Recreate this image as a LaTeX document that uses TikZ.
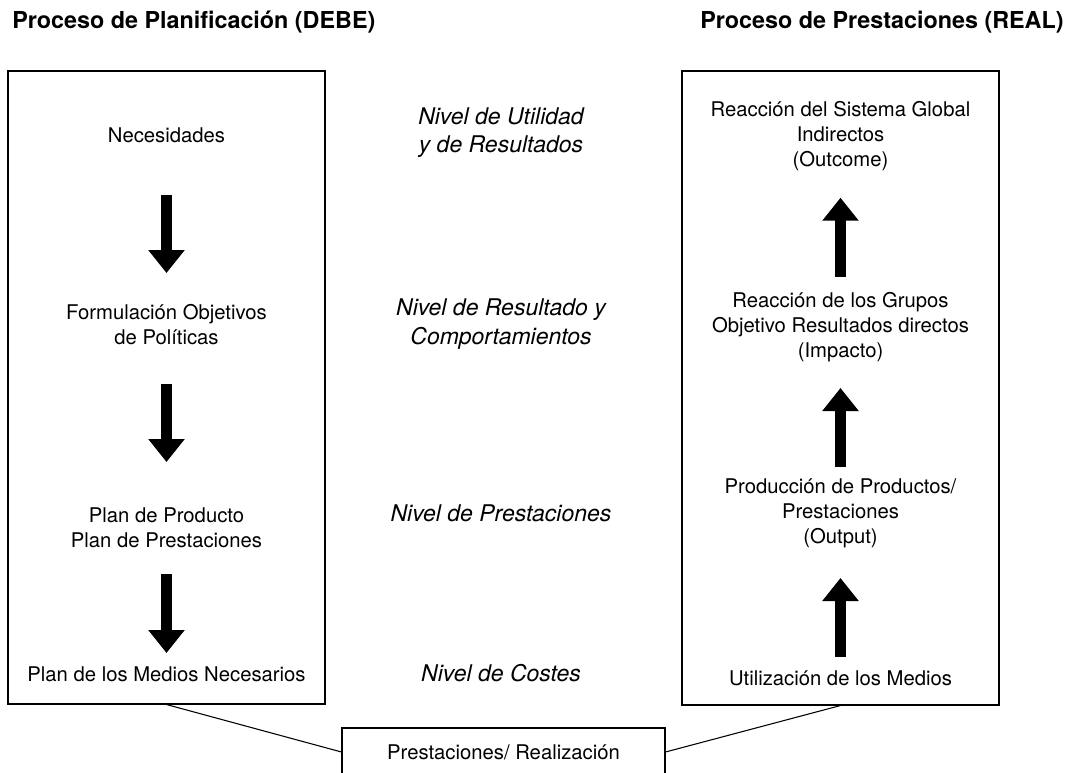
\documentclass[tikz,border=0pt]{standalone}
\usepackage{fontspec}
\setmainfont{TeX Gyre Heros}
\usetikzlibrary{arrows.meta}
\newcommand{\leftX}{166.5}
\newcommand{\midX}{501}
\newcommand{\rightX}{840.5}
\newcommand{\bodyFont}{\fontsize{15.2pt}{18.75pt}\selectfont}
\newcommand{\levelFont}{\fontsize{17.25pt}{21.5pt}\selectfont\itshape}
\newcommand{\titleFont}{\fontsize{17.5pt}{20pt}\selectfont\bfseries}
\tikzset{
  frameBox/.style={draw, line width=0.8pt, inner sep=0pt},
  stageText/.style={align=center, font=\bodyFont, inner sep=0pt},
  levelText/.style={align=center, font=\levelFont, inner sep=0pt},
  titleText/.style={anchor=base west, font=\titleFont, inner sep=0pt},
  blockArrow/.style={-{Triangle[width=26.25pt,length=17.25pt]}, line width=8.25pt}
}

\begin{document}
\begin{tikzpicture}[x=0.75pt, y=-0.75pt]
\useasboundingbox (0,0) rectangle (1074,773);
\node[titleText] (planTitle) at (12,29) {Proceso de Planificación (DEBE)};
\node[titleText] (realTitle) at (700,29) {Proceso de Prestaciones (REAL)};

\node[frameBox, minimum width=237.75pt, minimum height=474.75pt] (planBox) at (\leftX,387.5) {};
\node[frameBox, minimum width=237.75pt, minimum height=475.5pt] (realBox) at (\rightX,388) {};
\node[frameBox, font=\bodyFont, minimum width=242.25pt, minimum height=36pt] (doneBox) at (503.5,752) {Prestaciones/ Realización};
\draw[line width=0.8pt] (planBox.south) -- (doneBox.west);
\draw[line width=0.8pt] (realBox.south) -- (doneBox.east);

% DEBE
\node[stageText] (needs) at (\leftX,135) {Necesidades};
\node[stageText] (goals) at (\leftX,324.5) {Formulación Objetivos\\de Políticas};
\node[stageText] (plans) at (\leftX,527.5) {Plan de Producto\\Plan de Prestaciones};
\node[stageText] (means) at (\leftX,674) {Plan de los Medios Necesarios};
\draw[blockArrow, shorten <=45pt, shorten >=38.6pt] (needs.center) -- (goals.center);
\draw[blockArrow, shorten <=44.6pt, shorten >=49.1pt] (goals.center) -- (plans.center);
\draw[blockArrow, shorten <=34.9pt, shorten >=15.75pt] (plans.center) -- (means.center);

% niveles
\node[levelText] (lvlUtil) at (\midX,132.5) {Nivel de Utilidad\\y de Resultados};
\node[levelText] (lvlResult) at (\midX,324) {Nivel de Resultado y\\Comportamientos};
\node[levelText] (lvlPrest) at (\midX,513) {Nivel de Prestaciones};
\node[levelText] (lvlCost) at (\midX,673) {Nivel de Costes};

% REAL
\node[stageText] (outcome) at (\rightX,136) {Reacción del Sistema Global\\Indirectos\\(Outcome)};
\node[stageText] (impact) at (\rightX,327) {Reacción de los Grupos\\Objetivo Resultados directos\\(Impacto)};
\node[stageText] (output) at (\rightX,513) {Producción de Productos/\\Prestaciones\\(Output)};
\node[stageText] (usage) at (\rightX,678) {Utilización de los Medios};
\draw[blockArrow, shorten <=15.75pt, shorten >=48.75pt] (usage.center) -- (output.center);
\draw[blockArrow, shorten <=34.5pt, shorten >=45.75pt] (output.center) -- (impact.center);
\draw[blockArrow, shorten <=37.5pt, shorten >=46.3pt] (impact.center) -- (outcome.center);
\end{tikzpicture}
\end{document}
